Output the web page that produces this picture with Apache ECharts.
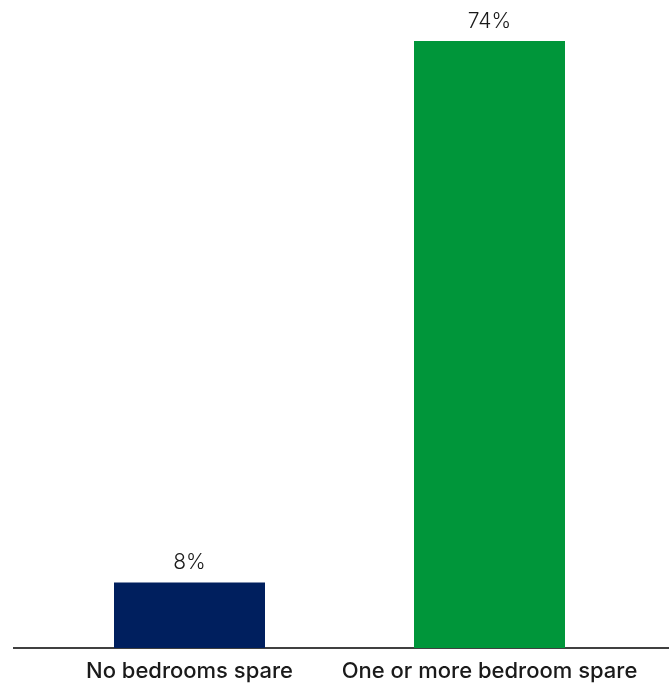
<!DOCTYPE html>
<html>
<head>
<meta charset="utf-8">
<script src="https://cdn.jsdelivr.net/npm/echarts@6/dist/echarts.min.js"></script>
<style>
  html, body { margin: 0; padding: 0; background: #fff; }
  #chart { width: 669px; height: 683px; }
</style>
</head>
<body>
<div id="chart"></div>
<script>
// data
const categories = ['No bedrooms spare', 'One or more bedroom spare']
const values = [8, 74]
const barColors = ['#001F5E', '#00963A']

const chart = echarts.init(document.getElementById('chart'))

const option = {
  animation: false,
  grid: {
    left: 39.5,
    right: 29.5,
    top: 41,
    bottom: 35
  },
  xAxis: {
    type: 'category',
    data: categories,
    axisLine: { show: false },
    axisTick: { show: false },
    axisLabel: {
      interval: 0,
      hideOverlap: false,
      margin: 12,
      fontFamily: 'Inter',
      fontWeight: 500,
      fontSize: 22,
      color: '#1a1a1a'
    }
  },
  yAxis: {
    type: 'value',
    min: 0,
    max: 74,
    show: false,
    splitLine: { show: false }
  },
  // axis line runs past the plot area on both sides
  graphic: [
    {
      type: 'line',
      shape: { x1: 13, y1: 648, x2: 669, y2: 648 },
      style: { stroke: '#000', lineWidth: 1.5 }
    }
  ],
  series: [
    {
      type: 'bar',
      barWidth: 151,
      data: values.map((v, i) => ({ value: v, itemStyle: { color: barColors[i] } })),
      label: {
        show: true,
        position: 'top',
        distance: 9,
        formatter: '{c}%',
        fontFamily: 'Inter',
        fontWeight: 300,
        fontSize: 21,
        color: '#1a1a1a'
      }
    }
  ]
}

chart.setOption(option)
</script>
</body>
</html>
